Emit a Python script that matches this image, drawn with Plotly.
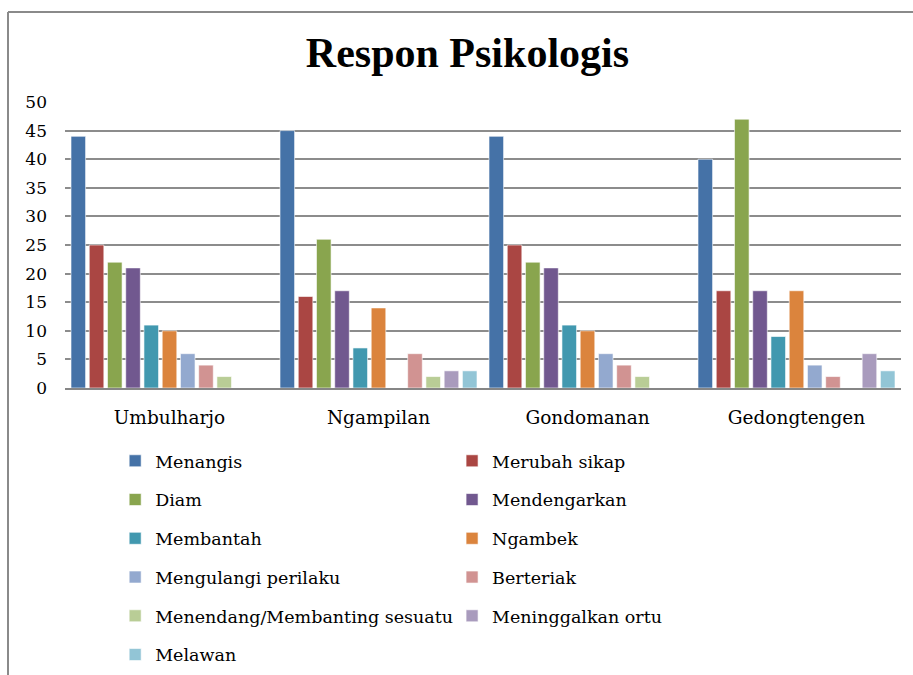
import plotly.graph_objects as go

wilayah = ["Umbulharjo", "Ngampilan", "Gondomanan", "Gedongtengen"]

respon = [
    "Menangis", "Merubah sikap", "Diam", "Mendengarkan", "Membantah", "Ngambek",
    "Mengulangi perilaku", "Berteriak", "Menendang/Membanting sesuatu",
    "Meninggalkan ortu", "Melawan",
]

menangis = [44, 45, 44, 40]
merubah_sikap = [25, 16, 25, 17]
diam = [22, 26, 22, 47]
mendengarkan = [21, 17, 21, 17]
membantah = [11, 7, 11, 9]
ngambek = [10, 14, 10, 17]
mengulangi = [6, 0, 6, 4]
berteriak = [4, 6, 4, 2]
menendang = [2, 2, 2, 0]
meninggalkan = [0, 3, 0, 6]
melawan = [0, 3, 0, 3]

nilai = [menangis, merubah_sikap, diam, mendengarkan, membantah, ngambek,
         mengulangi, berteriak, menendang, meninggalkan, melawan]

warna = ["#4572A7", "#AA4643", "#89A54E", "#71588F", "#4198AF", "#DB843D",
         "#93A9CF", "#D19392", "#B9CD96", "#A99BBD", "#92C5D6"]

FONT = "DejaVu Serif"

fig = go.Figure()
for i, (nama, vals, c) in enumerate(zip(respon, nilai, warna)):
    fig.add_trace(go.Bar(
        name=nama,
        x=wilayah,
        y=vals,
        marker=dict(color=c, line=dict(color="rgba(255,255,255,0.6)", width=1)),
        legendgroup=nama,
        legend="legend" if i % 2 == 0 else "legend2",
    ))

legend_style = dict(
    orientation="v",
    yanchor="top",
    y=-0.192,
    xanchor="left",
    font=dict(family=FONT, size=17.5, color="#000000"),
    tracegroupgap=13,
    itemwidth=30,
    bgcolor="rgba(0,0,0,0)",
)

fig.update_layout(
    width=913,
    height=675,
    paper_bgcolor="white",
    plot_bgcolor="white",
    margin=dict(l=65, r=12, t=102, b=287, autoexpand=False),
    barmode="group",
    bargap=0.04,
    bargroupgap=0.2,
    title=dict(
        text="<b>Respon Psikologis</b>",
        x=0.512, xanchor="center",
        y=0.923, yanchor="middle",
        font=dict(family="Liberation Serif", size=42, color="#000000"),
    ),
    legend=dict(x=0.06, **legend_style),
    legend2=dict(x=0.463, **legend_style),
    xaxis=dict(
        showgrid=False,
        showline=True,
        linecolor="#868686",
        linewidth=2,
        tickfont=dict(family=FONT, size=18.5, color="#000000"),
        ticklabelstandoff=12,
    ),
    yaxis=dict(
        range=[0, 50],
        dtick=5,
        showgrid=True,
        gridcolor="#8c8c8c",
        gridwidth=2,
        zeroline=False,
        showline=False,
        tickfont=dict(family=FONT, size=17, color="#000000"),
        ticklabelstandoff=17,
    ),
    shapes=[
        dict(type="line", xref="paper", yref="paper",
             x0=(8 - 65) / 836, x1=(8 - 65) / 836, y0=(388 - 680) / 286, y1=(388 - 12) / 286,
             line=dict(color="#8a8a8a", width=2)),
        dict(type="line", xref="paper", yref="paper",
             x0=(8 - 65) / 836, x1=(920 - 65) / 836, y0=(388 - 12) / 286, y1=(388 - 12) / 286,
             line=dict(color="#8a8a8a", width=2)),
    ],
)

fig.write_html(
    "out.html",
    config={"displayModeBar": False},
    post_script="document.body.style.margin = '0';",
)
